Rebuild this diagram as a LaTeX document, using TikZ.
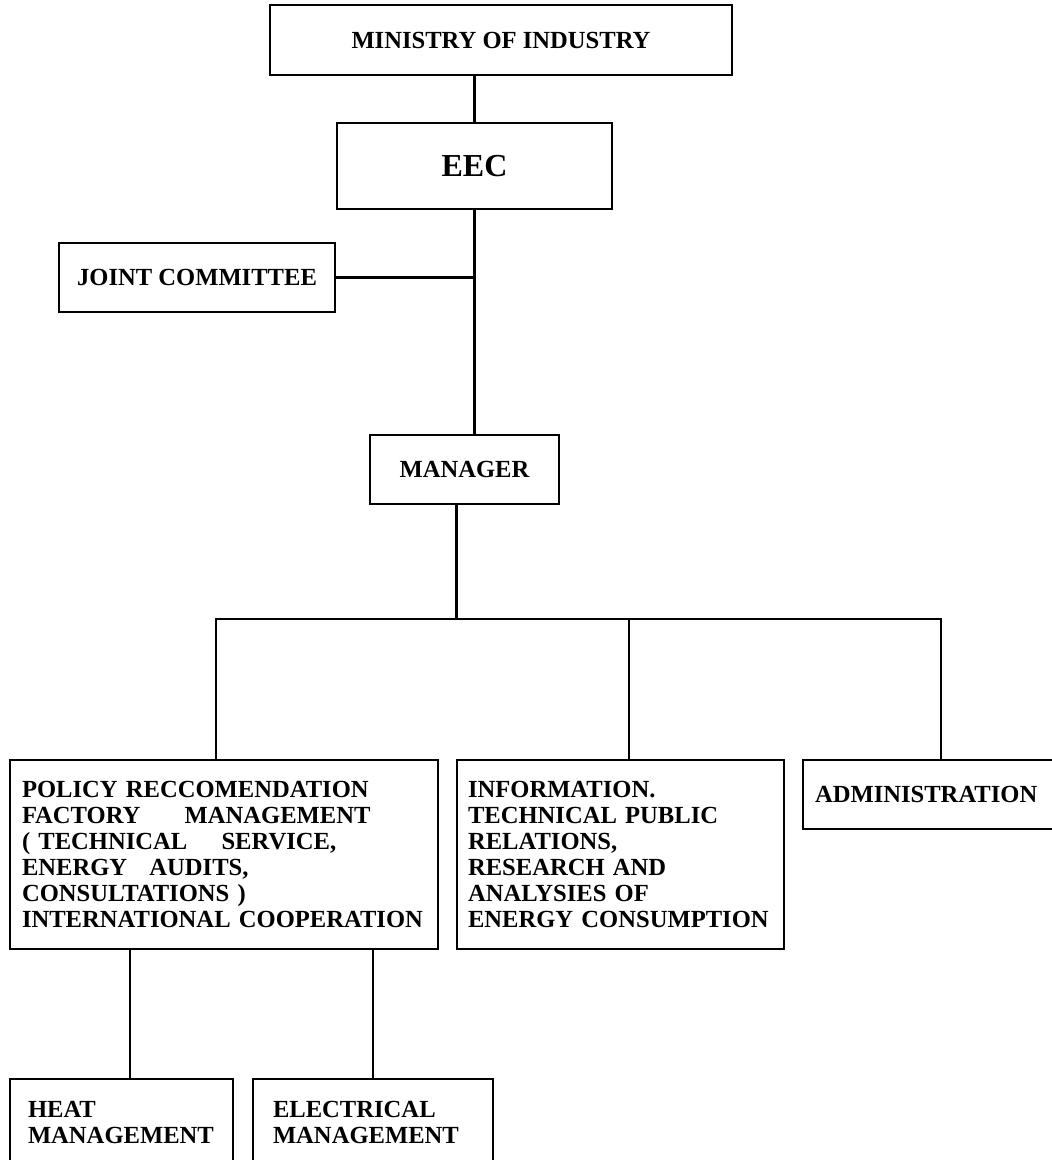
\documentclass[tikz,border=0pt]{standalone}
\usepackage{fontspec}
\setmainfont{Liberation Serif}
\usepackage{tikz}
\usetikzlibrary{positioning}

\begin{document}
\begin{tikzpicture}[
  box/.style={draw, line width=1pt, inner sep=0pt, font=\bfseries\fontsize{12.3}{13}\selectfont},
  unit/.style={box, align=left, minimum height=94.5pt},
  sub/.style={box, align=left, inner ysep=11pt, text depth=30pt},
  link/.style={line width=1.4pt}
]
\useasboundingbox (0,0) rectangle (526pt,-580pt);
\clip (0,0) rectangle (526pt,-580pt);
\node[box, minimum width=231pt, minimum height=35pt] (ministry) at (250.5pt,-20pt) {MINISTRY OF INDUSTRY};
\node[box, below=23pt of ministry, xshift=-13.25pt, minimum width=137.5pt, minimum height=43pt, font=\bfseries\fontsize{16}{18}\selectfont] (eec) {EEC};
\node[box, below left=16pt and 0pt of eec.south west, minimum width=138pt, minimum height=34.5pt] (jc) {JOINT COMMITTEE};
\node[box, below=112pt of eec, xshift=-5pt, minimum width=94.5pt, minimum height=34.5pt] (manager) {MANAGER};
\node[unit, text width=202pt, inner xsep=6pt, below=127pt of manager, xshift=-120.25pt] (policy) {POLICY RECCOMENDATION\\FACTORY\hspace{18pt} MANAGEMENT\\( TECHNICAL\hspace{13pt} SERVICE,\\ENERGY\hspace{7pt} AUDITS,\\CONSULTATIONS )\\INTERNATIONAL COOPERATION};
\node[unit, text width=152.5pt, inner xsep=5.5pt, right=8.5pt of policy] (info) {INFORMATION.\\TECHNICAL PUBLIC\\RELATIONS,\\RESEARCH AND\\ANALYSIES OF\\ENERGY CONSUMPTION};
\node[box, align=left, text width=138pt, inner xsep=6pt, minimum height=34.5pt, right=8.5pt of info.north east, anchor=north west] (admin) {ADMINISTRATION};
\node[sub, text width=93.5pt, inner xsep=9pt, below=64pt of policy.south west, anchor=north west] (heat) {HEAT\\MANAGEMENT};
\node[sub, text width=100pt, inner xsep=10pt, right=9pt of heat.north east, anchor=north west] (elec) {ELECTRICAL\\MANAGEMENT};
\coordinate[below=57pt of manager.south, xshift=-4pt] (bus);
\draw[link] (eec) -- (eec |- ministry.south);
\draw[link] (eec.south) -- (eec.south |- manager.north);
\draw[link] (jc) -- (jc -| eec);
\draw[link] ([xshift=-4pt]manager.south) -- (bus);
\draw[link] ([xshift=-4pt]policy.north) |- ([xshift=69.5pt]admin.north west |- bus) -- ([xshift=69.5pt]admin.north west);
\draw[link] ([xshift=4.25pt]info.north) -- ([xshift=4.25pt]info.north |- bus);
\draw[link] ([xshift=4.25pt]heat.north) -- ([xshift=4.25pt]heat.north |- policy.south);
\draw[link] (elec.north) -- (elec.north |- policy.south);
\end{tikzpicture}
\end{document}
